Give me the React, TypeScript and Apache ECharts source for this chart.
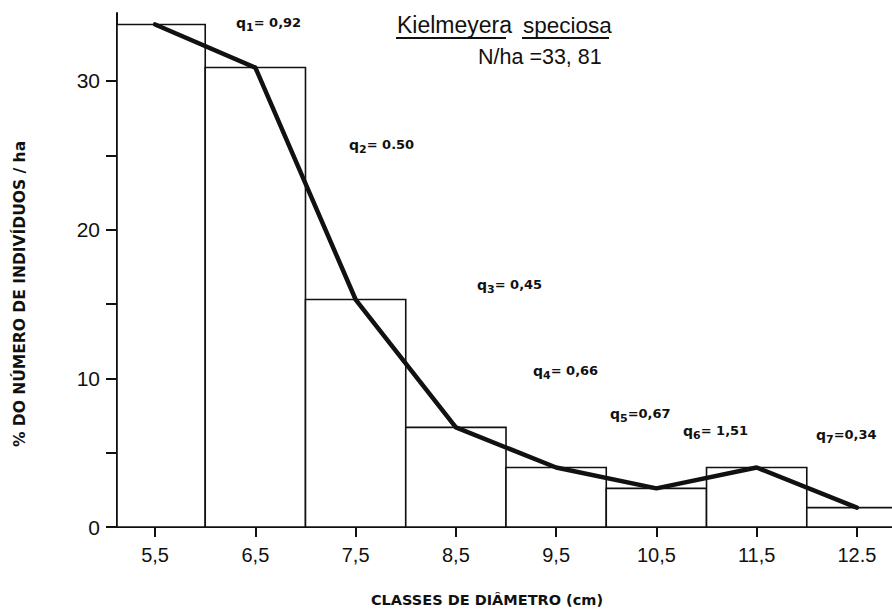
import React, { useEffect, useRef } from "react";
import * as echarts from "echarts";

// ---- data ----
const classLower = [5, 6, 7, 8, 9, 10, 11, 12];
const classUpper = [6, 7, 8, 9, 10, 11, 12, 13];
const classMidpoints = [5.5, 6.5, 7.5, 8.5, 9.5, 10.5, 11.5, 12.5];
const percentPerHa = [33.8, 30.9, 15.3, 6.7, 4.0, 2.6, 4.0, 1.3];
const xTickValues = [5.5, 6.5, 7.5, 8.5, 9.5, 10.5, 11.5, 12.5];
const xTickLabels = ["5,5", "6,5", "7,5", "8,5", "9,5", "10,5", "11,5", "12.5"];
const yTickValues = [0, 5, 10, 15, 20, 25, 30];
const yLabelValues = [0, 10, 20, 30];
const qIndices = ["1", "2", "3", "4", "5", "6", "7"];
const qValues = ["= 0,92", "= 0.50", "= 0,45", "= 0,66", "=0,67", "= 1,51", "=0,34"];
const speciesName = ["Kielmeyera", "speciosa"];
const densityLabel = "N/ha =33, 81";
const yAxisTitle = "% DO NÚMERO DE INDIVÍDUOS / ha";
const xAxisTitle = "CLASSES DE DIÂMETRO (cm)";

// ---- annotation layout (pixels) ----
const qLabelPos = [
  [236, 21],
  [349, 143],
  [477, 283],
  [533, 369],
  [610, 412],
  [683, 429],
  [816, 433],
];

const INK = "#111";
const NUM_FONT = "Liberation Sans";
const LETTER_FONT = "DejaVu Sans";

export default function App() {
  const ref = useRef<HTMLDivElement>(null);

  useEffect(() => {
    if (!ref.current) return;
    const chart = echarts.init(ref.current, null, { renderer: "svg" });

    const graphics: any[] = [];
    qIndices.forEach((idx, i) => {
      graphics.push({
        type: "text",
        x: qLabelPos[i][0],
        y: qLabelPos[i][1] + 2,
        style: {
          text: `{q|q}{s|${idx}}{n|${qValues[i]}}`,
          fill: INK,
          fontSize: 13,
          fontWeight: "bold",
          fontFamily: LETTER_FONT,
          align: "left",
          verticalAlign: "middle",
          rich: {
            q: { fontSize: 14, fontWeight: "bold", fontFamily: LETTER_FONT, color: INK, verticalAlign: "top", lineHeight: 14 },
            s: {
              fontSize: 11,
              fontWeight: "bold",
              fontFamily: LETTER_FONT,
              color: INK,
              verticalAlign: "top",
              lineHeight: 11,
              padding: [6, 0, 0, 0],
            },
            n: { fontSize: 13, fontWeight: "bold", fontFamily: LETTER_FONT, color: INK, verticalAlign: "top", lineHeight: 14 },
          },
        },
      });
    });
    graphics.push(
      {
        type: "text",
        x: 397,
        y: 25,
        style: { text: speciesName[0], fill: INK, fontSize: 23, fontFamily: NUM_FONT, align: "left", verticalAlign: "middle" },
      },
      {
        type: "text",
        x: 523,
        y: 25,
        style: { text: speciesName[1], fill: INK, fontSize: 22.5, fontFamily: NUM_FONT, align: "left", verticalAlign: "middle" },
      },
      { type: "line", shape: { x1: 396, y1: 38, x2: 506, y2: 38 }, style: { stroke: INK, lineWidth: 2 } },
      { type: "line", shape: { x1: 522, y1: 38, x2: 609, y2: 38 }, style: { stroke: INK, lineWidth: 2 } },
      {
        type: "text",
        x: 478,
        y: 57,
        style: { text: densityLabel, fill: INK, fontSize: 21.5, fontFamily: NUM_FONT, align: "left", verticalAlign: "middle" },
      },
      {
        type: "text",
        x: 20,
        y: 294,
        rotation: Math.PI / 2,
        style: {
          text: yAxisTitle,
          fill: INK,
          fontSize: 15.5,
          fontWeight: "bold",
          fontFamily: LETTER_FONT,
          align: "center",
          verticalAlign: "middle",
        },
      },
      {
        type: "text",
        x: 487,
        y: 600,
        style: {
          text: xAxisTitle,
          fill: INK,
          fontSize: 14.5,
          fontWeight: "bold",
          fontFamily: LETTER_FONT,
          align: "center",
          verticalAlign: "middle",
        },
      }
    );

    const xLabelFor = (v: number) => {
      const i = xTickValues.findIndex((t) => Math.abs(t - v) < 1e-6);
      return i >= 0 ? xTickLabels[i] : "";
    };

    chart.setOption({
      animation: false,
      backgroundColor: "#ffffff",
      grid: { left: 117, right: 0, top: 13, bottom: 83, containLabel: false, outerBoundsMode: "none" },
      xAxis: {
        type: "value",
        min: 5.12,
        max: 12.85,
        axisLine: { show: true, onZero: false, lineStyle: { color: INK, width: 2 } },
        axisTick: { show: true, customValues: xTickValues, length: 10, lineStyle: { color: INK, width: 2 } },
        axisLabel: {
          show: true,
          customValues: xTickValues,
          formatter: (v: number) => xLabelFor(v),
          margin: 18,
          fontSize: 20,
          fontFamily: NUM_FONT,
          color: INK,
        },
        splitLine: { show: false },
      },
      yAxis: {
        type: "value",
        min: 0,
        max: 34.57,
        axisLine: { show: true, lineStyle: { color: INK, width: 2 } },
        axisTick: { show: true, customValues: yTickValues, length: 11, lineStyle: { color: INK, width: 2 } },
        axisLabel: {
          show: true,
          customValues: yLabelValues,
          margin: 17,
          fontSize: 21,
          fontFamily: NUM_FONT,
          color: INK,
        },
        splitLine: { show: false },
      },
      series: [
        {
          type: "custom",
          name: "classes",
          z: 2,
          encode: { x: [0, 1], y: 2 },
          data: classLower.map((lo, i) => [lo, classUpper[i], percentPerHa[i]]),
          renderItem: (params: any, api: any) => {
            const lo = api.value(0);
            const hi = api.value(1);
            const v = api.value(2);
            const p0 = api.coord([lo, v]);
            const p1 = api.coord([hi, 0]);
            const cs = params.coordSys;
            const shape = echarts.graphic.clipRectByRect(
              { x: p0[0], y: p0[1], width: p1[0] - p0[0], height: p1[1] - p0[1] },
              { x: cs.x, y: cs.y, width: cs.width + 2, height: cs.height }
            );
            if (!shape) return null;
            return {
              type: "rect",
              shape,
              style: { fill: "#ffffff", stroke: INK, lineWidth: 1.6 },
            };
          },
        },
        {
          type: "line",
          name: "curve",
          z: 3,
          data: classMidpoints.map((x, i) => [x, percentPerHa[i]]),
          symbol: "none",
          lineStyle: { color: INK, width: 4.5, join: "round", cap: "round" },
        },
      ],
      graphic: graphics,
    });

    return () => chart.dispose();
  }, []);

  return (
    <div
      ref={ref}
      style={{ position: "fixed", left: 0, top: 0, width: 892, height: 610, background: "#fff" }}
    />
  );
}
